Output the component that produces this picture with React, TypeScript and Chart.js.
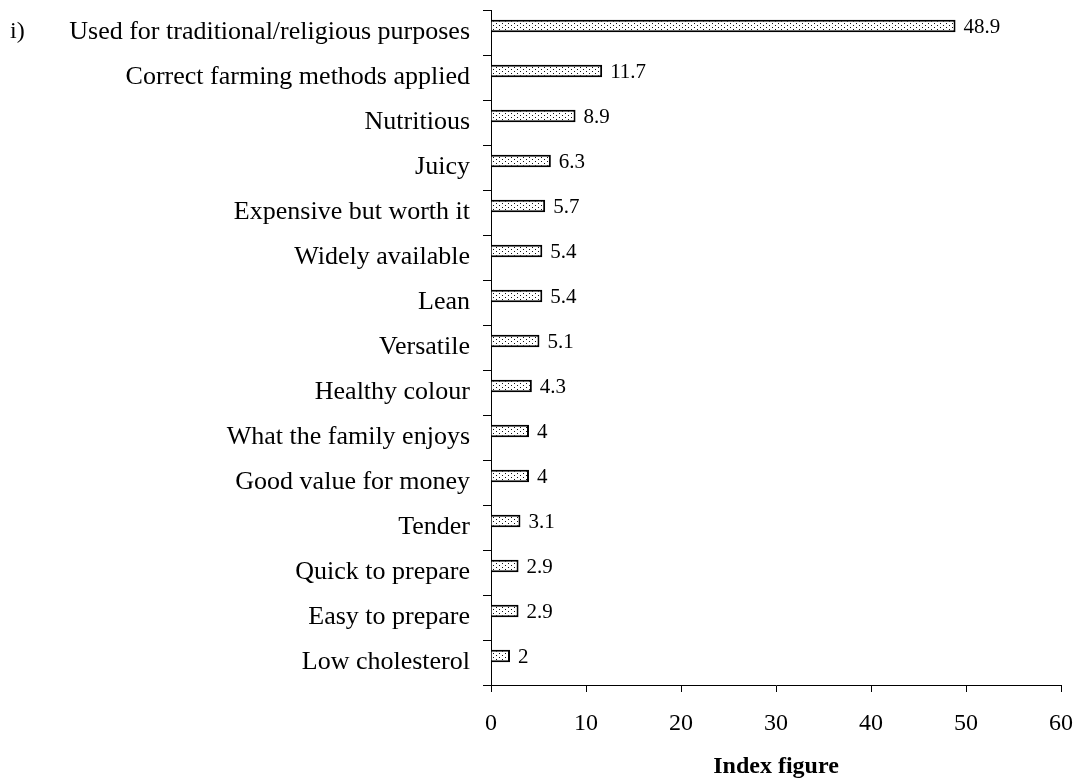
import React, { useEffect, useRef } from "react";
import { Chart, registerables } from "chart.js";

Chart.register(...registerables);

// Attributes and their index figures, top to bottom
const attributes = [
  "Used for traditional/religious purposes",
  "Correct farming methods applied",
  "Nutritious",
  "Juicy",
  "Expensive but worth it",
  "Widely available",
  "Lean",
  "Versatile",
  "Healthy colour",
  "What the family enjoys",
  "Good value for money",
  "Tender",
  "Quick to prepare",
  "Easy to prepare",
  "Low cholesterol",
];

const indexValues = [48.9, 11.7, 8.9, 6.3, 5.7, 5.4, 5.4, 5.1, 4.3, 4, 4, 3.1, 2.9, 2.9, 2];

const xTicks = [0, 10, 20, 30, 40, 50, 60];

const axisTitle = "Index figure";
const panelTag = "i)";

const SERIF = "'Liberation Serif', 'Times New Roman', serif";

function makeDotPattern(): CanvasPattern | string {
  const tile = document.createElement("canvas");
  tile.width = 6;
  tile.height = 4;
  const c = tile.getContext("2d");
  if (!c) return "#ddd";
  c.fillStyle = "#ffffff";
  c.fillRect(0, 0, 6, 4);
  c.fillStyle = "#111111";
  c.fillRect(1, 1, 1, 1);
  c.fillRect(4, 3, 1, 1);
  const p = c.createPattern(tile, "repeat");
  return p || "#ddd";
}

export default function App() {
  const canvasRef = useRef<HTMLCanvasElement | null>(null);

  useEffect(() => {
    if (!canvasRef.current) return;

    const textPlugin = {
      id: "textLayer",
      afterDatasetsDraw(chart: any) {
        const ctx = chart.ctx;
        const meta = chart.getDatasetMeta(0);
        ctx.save();
        ctx.fillStyle = "#000";
        ctx.font = `21px ${SERIF}`;
        ctx.textAlign = "left";
        ctx.textBaseline = "middle";
        meta.data.forEach((bar: any, i: number) => {
          ctx.fillText(String(indexValues[i]), bar.x + 8, bar.y + 1);
        });
        ctx.restore();
      },
      afterDraw(chart: any) {
        const ctx = chart.ctx;
        const area = chart.chartArea;
        ctx.save();
        ctx.fillStyle = "#000";
        ctx.textBaseline = "middle";
        ctx.textAlign = "center";
        ctx.font = `bold 24px ${SERIF}`;
        ctx.fillText(axisTitle, (area.left + area.right) / 2, 767);
        ctx.textAlign = "left";
        ctx.font = `24px ${SERIF}`;
        ctx.fillText(panelTag, 10, 32);
        ctx.restore();
      },
    };

    const chart = new Chart(canvasRef.current, {
      type: "bar",
      data: {
        labels: attributes,
        datasets: [
          {
            data: indexValues,
            backgroundColor: makeDotPattern() as any,
            borderColor: "#000",
            borderWidth: 2,
            barPercentage: 0.95,
            categoryPercentage: 0.578,
          },
          {
            // empty slot that keeps each bar above its category centre
            data: attributes.map(() => null),
            backgroundColor: "rgba(0,0,0,0)",
            borderWidth: 0,
            barPercentage: 0.95,
            categoryPercentage: 0.578,
          },
        ],
      },
      options: {
        indexAxis: "y",
        animation: false,
        responsive: false,
        maintainAspectRatio: false,
        layout: { padding: { left: 0, right: 18, top: 10, bottom: 0 } },
        plugins: {
          legend: { display: false },
          tooltip: { enabled: false },
        },
        scales: {
          x: {
            type: "linear",
            min: 0,
            max: 60,
            afterBuildTicks(scale: any) {
              scale.ticks = xTicks.map((v) => ({ value: v }));
            },
            afterFit(scale: any) {
              scale.height = 95;
              scale.paddingLeft = 0;
              scale.paddingRight = 0;
            },
            border: { display: true, color: "#000", width: 1 },
            grid: {
              display: true,
              drawOnChartArea: false,
              drawTicks: true,
              tickLength: 7,
              color: "#000",
            },
            ticks: {
              color: "#000",
              padding: 17,
              font: { family: SERIF, size: 24 },
            },
          },
          y: {
            type: "category",
            offset: true,
            afterFit(scale: any) {
              scale.width = 491;
              scale.paddingTop = 0;
              scale.paddingBottom = 0;
            },
            border: { display: true, color: "#000", width: 1 },
            grid: {
              display: true,
              offset: true,
              drawOnChartArea: false,
              drawTicks: true,
              tickLength: 8,
              color: "#000",
            },
            ticks: {
              color: "#000",
              padding: 13,
              autoSkip: false,
              font: { family: SERIF, size: 26 },
            },
          },
        },
      },
      plugins: [textPlugin],
    } as any);

    return () => chart.destroy();
  }, []);

  return (
    <div
      style={{
        position: "fixed",
        left: 0,
        top: 0,
        width: 1079,
        height: 780,
        background: "#fff",
      }}
    >
      <canvas ref={canvasRef} width={1079} height={780} />
    </div>
  );
}
